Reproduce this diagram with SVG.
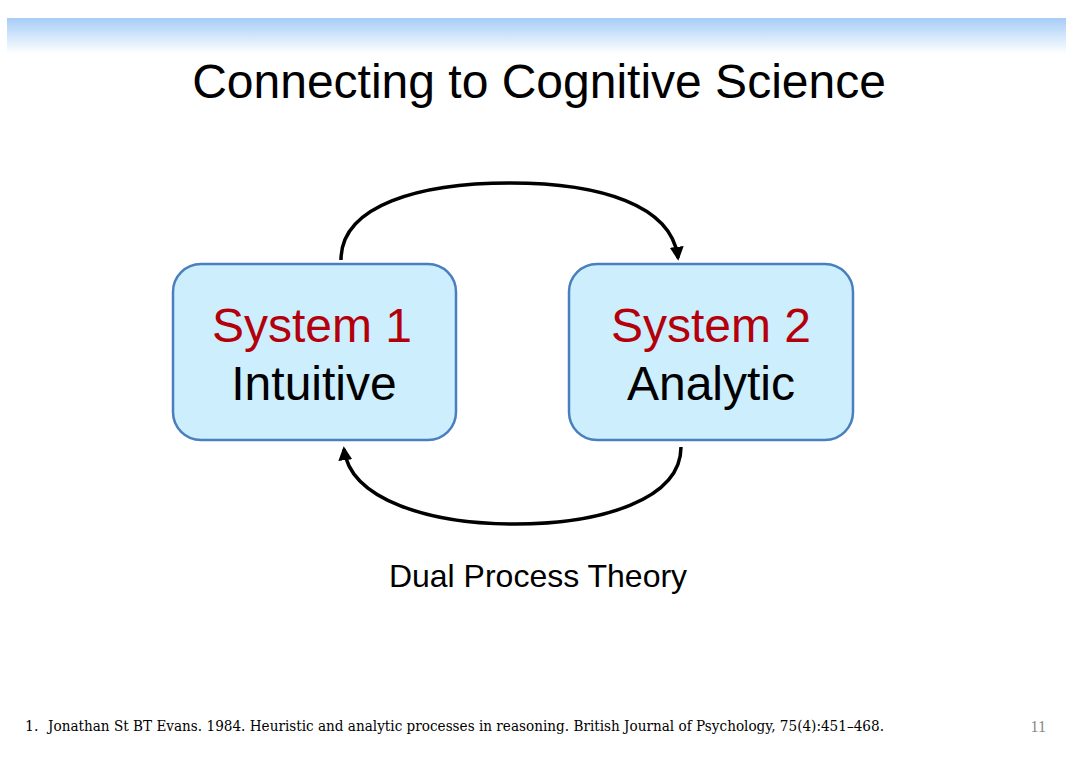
<svg xmlns="http://www.w3.org/2000/svg" width="1080" height="764" viewBox="0 0 1080 764">
<defs>
<linearGradient id="band" x1="0" y1="0" x2="0" y2="1">
<stop offset="0" stop-color="#a6cdf7"/>
<stop offset="1" stop-color="#ffffff"/>
</linearGradient>
<marker id="ah" viewBox="0 0 10 10" refX="8" refY="5" markerWidth="4" markerHeight="4" orient="auto-start-reverse" markerUnits="strokeWidth">
<path d="M0,0 L10,5 L0,10 z" fill="#000"/>
</marker>
<style>
.box{fill:#cdeefc;stroke:#4a7fbf;stroke-width:2.5}
.sys{font-family:"Liberation Sans",Arial,sans-serif;font-size:48px;fill:#b3000b;text-anchor:middle}
.lbl{font-family:"Liberation Sans",Arial,sans-serif;font-size:48px;fill:#000;text-anchor:middle}
.conn{fill:none;stroke:#000;stroke-width:3.5;marker-end:url(#ah)}
.ref{font-family:"DejaVu Serif","Liberation Serif",serif;font-size:14px;fill:#000}
</style>
</defs>
<rect width="1080" height="764" fill="#fff"/>
<rect x="7" y="18" width="1059" height="36" fill="url(#band)"/>
<text x="539" y="98" font-family="Liberation Sans,Arial,sans-serif" font-size="48" text-anchor="middle" fill="#000">Connecting to Cognitive Science</text>
<g id="system1">
<rect class="box" x="173" y="264" width="283" height="176" rx="28"/>
<text class="sys" x="312" y="342">System 1</text>
<text class="lbl" x="314" y="400">Intuitive</text>
</g>
<g id="system2">
<rect class="box" x="569" y="264" width="284" height="176" rx="28"/>
<text class="sys" x="711" y="342">System 2</text>
<text class="lbl" x="711" y="400">Analytic</text>
</g>
<g id="connectors">
<path class="conn" d="M341,260 C341,205 420,183 510,183 C600,183 672,205 678,258"/>
<path class="conn" d="M681,447 C681,500 600,524 515,524 C430,524 350,500 344,449"/>
</g>
<text x="538" y="587" font-family="Liberation Sans,Arial,sans-serif" font-size="32" text-anchor="middle" fill="#000">Dual Process Theory</text>
<text class="ref" x="25" y="731">1.</text>
<text class="ref" x="48" y="731" textLength="836" lengthAdjust="spacingAndGlyphs">Jonathan St BT Evans. 1984. Heuristic and analytic processes in reasoning. British Journal of Psychology, 75(4):451–468.</text>
<text x="1046" y="732" font-family="Liberation Serif,Times New Roman,serif" font-size="16" fill="#888" text-anchor="end">11</text>
</svg>
